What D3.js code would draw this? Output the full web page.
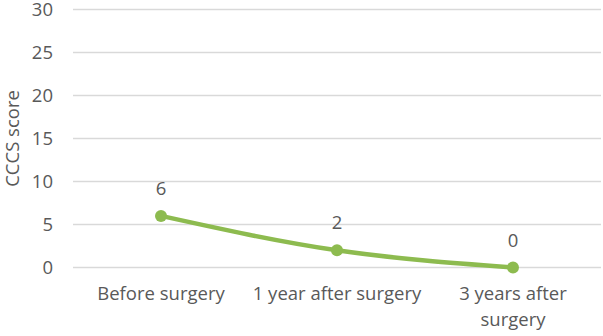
<!DOCTYPE html>
<html>
<head>
<meta charset="utf-8">
<script src="https://cdn.jsdelivr.net/npm/d3@7"></script>
<style>
  body { margin: 0; background: #fff; }
  svg text { font-family: "Open Sans", "Liberation Sans", sans-serif; fill: #595959; }
</style>
</head>
<body>
<div id="chart"></div>
<script>
'use strict';

var categories = ['Before surgery', '1 year after surgery', '3 years after surgery'];
var scores     = [6, 2, 0];
var yTicks     = [0, 5, 10, 15, 20, 25, 30];
var yLabel     = 'CCCS score';

var W = 603, H = 336;
var fs = '18.5px';
var margins = {left: 73, right: 2, top: 9.5, bottom: 68.5};
var cw = W - margins.left - margins.right;
var ch = H - margins.top - margins.bottom;

var svg = d3.select('#chart').append('svg')
    .attr('width', W)
    .attr('height', H);

var chart = svg.append('g')
    .attr('transform', 'translate(' + margins.left + ',' + margins.top + ')');

var xScale = d3.scaleBand().domain(categories).range([0, cw]);
var yScale = d3.scaleLinear().domain([0, 30]).range([ch, 0]);

// gridlines
chart.append('g')
    .selectAll('line')
    .data(yTicks)
    .enter().append('line')
    .attr('x1', 0)
    .attr('x2', cw)
    .attr('y1', function(d) { return yScale(d); })
    .attr('y2', function(d) { return yScale(d); })
    .attr('stroke', '#d9d9d9')
    .attr('stroke-width', 1.3);

// y axis
var yAxis = chart.append('g')
    .call(d3.axisLeft(yScale).tickValues(yTicks).tickSize(0).tickPadding(20));
yAxis.select('.domain').remove();
yAxis.selectAll('text')
    .style('font-size', fs)
    .attr('fill', '#595959');

// x axis labels
var xAxis = chart.append('g')
    .attr('transform', 'translate(0,' + ch + ')')
    .call(d3.axisBottom(xScale).tickSize(0).tickPadding(19));
xAxis.select('.domain').remove();
xAxis.selectAll('text')
    .style('font-size', fs)
    .attr('fill', '#595959')
    .each(function(d) {
        var t = d3.select(this);
        if (d === '3 years after surgery') {
            t.text(null);
            t.append('tspan').attr('x', 0).text('3 years after');
            t.append('tspan').attr('x', 0).attr('dy', '1.4em').text('surgery');
        }
    });

// line
var line = d3.line()
    .curve(d3.curveMonotoneX)
    .x(function(d, i) { return xScale(categories[i]) + xScale.bandwidth() / 2; })
    .y(function(d) { return yScale(d); });

chart.append('path')
    .datum(scores)
    .attr('d', line)
    .attr('fill', 'none')
    .attr('stroke', '#8dbb4f')
    .attr('stroke-width', 4.5)
    .attr('stroke-linecap', 'round');

chart.selectAll('.pt')
    .data(scores)
    .enter().append('circle')
    .attr('class', 'pt')
    .attr('cx', function(d, i) { return xScale(categories[i]) + xScale.bandwidth() / 2; })
    .attr('cy', function(d) { return yScale(d); })
    .attr('r', 6)
    .attr('fill', '#8dbb4f');

chart.selectAll('.lbl')
    .data(scores)
    .enter().append('text')
    .attr('class', 'lbl')
    .attr('x', function(d, i) { return xScale(categories[i]) + xScale.bandwidth() / 2; })
    .attr('y', function(d) { return yScale(d) - 21; })
    .attr('text-anchor', 'middle')
    .style('font-size', fs)
    .text(function(d) { return d; });

// y label
svg.append('text')
    .attr('transform', 'translate(19,' + (margins.top + ch / 2) + ') rotate(-90)')
    .attr('text-anchor', 'middle')
    .style('font-size', fs)
    .text(yLabel);
</script>
</body>
</html>
